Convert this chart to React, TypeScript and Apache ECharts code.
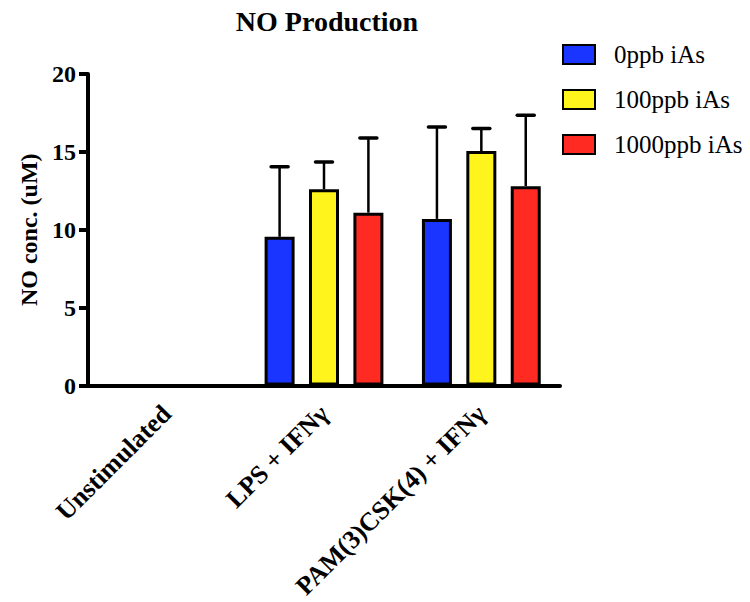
import React, { useEffect, useRef } from "react";
import * as echarts from "echarts";

const categories = ["Unstimulated", "LPS + IFNγ", "PAM(3)CSK(4) + IFNγ"];
const seriesNames = ["0ppb iAs", "100ppb iAs", "1000ppb iAs"];
const colors = ["#1a35ff", "#fff51c", "#ff2b22"];
const means0 = [0, 9.55, 10.7];
const means100 = [0, 12.6, 15.05];
const means1000 = [0, 11.1, 12.8];
const err0 = [0, 4.5, 5.9];
const err100 = [0, 1.75, 1.45];
const err1000 = [0, 4.8, 4.55];
const yTicks = [0, 5, 10, 15, 20];

const FONT = "'Liberation Serif', 'Times New Roman', serif";

export default function App() {
  const ref = useRef<HTMLDivElement>(null);
  useEffect(() => {
    if (!ref.current) return;
    const chart = echarts.init(ref.current, undefined, { renderer: "svg" });
    const means = [means0, means100, means1000];
    const errs = [err0, err100, err1000];
    const barWidth = 30;
    const gapPct = 0.48;
    const step = barWidth * (1 + gapPct);
    const offsets = [-step, 0, step];

    const barSeries = seriesNames.map((name, i) => ({
      name,
      type: "bar",
      data: means[i],
      barWidth,
      barGap: gapPct * 100 + "%",
      itemStyle: { color: colors[i], borderColor: "#000", borderWidth: 3 },
      z: 2,
    }));

    const errSeries = seriesNames.map((name, i) => ({
      name: name + " err",
      type: "custom",
      z: 5,
      data: categories.map((_, k) => [k, means[i][k], errs[i][k]]),
      renderItem: (params: any, api: any) => {
        const idx = api.value(0);
        const m = api.value(1);
        const e = api.value(2);
        if (!e) return null;
        const base = api.coord([idx, m]);
        const top = api.coord([idx, m + e]);
        const x = base[0] + offsets[i];
        const capHalf = 8.5;
        return {
          type: "group",
          children: [
            {
              type: "line",
              shape: { x1: x, y1: base[1], x2: x, y2: top[1] },
              style: { stroke: "#000", lineWidth: 2.5 },
            },
            {
              type: "line",
              shape: { x1: x - capHalf, y1: top[1], x2: x + capHalf, y2: top[1] },
              style: { stroke: "#000", lineWidth: 3.5, lineCap: "round" },
            },
          ],
        };
      },
    }));

    chart.setOption({
      animation: false,
      textStyle: { fontFamily: FONT },
      title: {
        text: "NO Production",
        left: 322,
        textAlign: "center",
        top: 2,
        textStyle: { fontFamily: FONT, fontWeight: "bold", fontSize: 28, color: "#000" },
      },
      legend: {
        orient: "vertical",
        left: 562,
        top: 42,
        padding: 0,
        icon: "rect",
        itemWidth: 32,
        itemHeight: 19,
        itemGap: 20,
        data: seriesNames,
        textStyle: { fontFamily: FONT, fontSize: 25, color: "#000", padding: [0, 0, 0, 14] },
      },
      grid: { left: 88, top: 74, right: 190, bottom: 215, containLabel: false },
      xAxis: {
        type: "category",
        data: categories,
        axisLine: { lineStyle: { color: "#000", width: 4 } },
        axisTick: { alignWithLabel: true, length: 9, lineStyle: { color: "#000", width: 4 } },
        axisLabel: {
          rotate: 45,
          margin: 24,
          interval: 0,
          fontFamily: FONT,
          fontWeight: "bold",
          fontSize: 26,
          color: "#000",
        },
      },
      yAxis: {
        type: "value",
        min: yTicks[0],
        max: yTicks[yTicks.length - 1],
        interval: 5,
        name: "NO conc. (uM)",
        nameLocation: "middle",
        nameRotate: 90,
        nameGap: 46,
        nameTextStyle: { fontFamily: FONT, fontWeight: "bold", fontSize: 24, color: "#000" },
        splitLine: { show: false },
        axisLine: { show: true, lineStyle: { color: "#000", width: 4 } },
        axisTick: { show: true, length: 9, lineStyle: { color: "#000", width: 4 } },
        axisLabel: {
          margin: 12,
          fontFamily: FONT,
          fontWeight: "bold",
          fontSize: 24,
          color: "#000",
        },
      },
      series: [...barSeries, ...errSeries],
    });
    return () => chart.dispose();
  }, []);
  return (
    <div
      ref={ref}
      style={{ position: "absolute", left: 0, top: 0, width: 750, height: 602 }}
    />
  );
}
